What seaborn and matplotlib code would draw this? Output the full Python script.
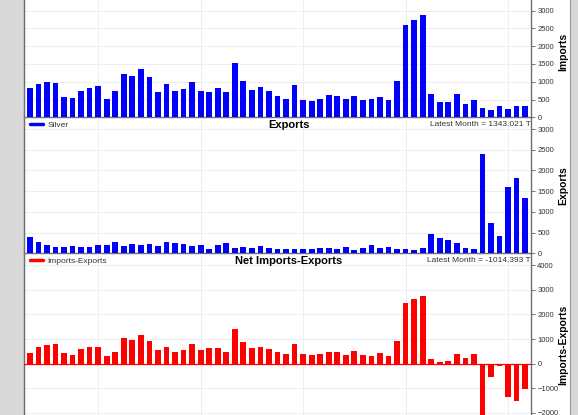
import matplotlib
matplotlib.use("Agg")
import matplotlib.pyplot as plt
from matplotlib.lines import Line2D
from matplotlib.patches import Rectangle
import seaborn as sns
import pandas as pd
import numpy as np

# ---- data (tonnes per month) ----
months = list(range(59))
imports = [830, 940, 980, 960, 580, 535, 750, 820, 880, 520,
           740, 1230, 1170, 1350, 1120, 720, 945, 740, 800, 1000,
           740, 715, 835, 715, 1525, 1020, 760, 845, 730, 610,
           525, 900, 490, 460, 515, 620, 590, 515, 610, 490,
           525, 570, 480, 1030, 2580, 2730, 2880, 650, 440, 440,
           650, 385, 490, 270, 200, 320, 245, 320, 328.6]
exports = [400, 265, 210, 145, 160, 175, 150, 160, 200, 210,
           265, 170, 215, 200, 215, 175, 265, 250, 235, 185,
           200, 95, 200, 250, 135, 150, 135, 175, 130, 115,
           115, 115, 95, 95, 120, 135, 105, 150, 80, 135,
           200, 135, 150, 95, 95, 90, 120, 460, 360, 330,
           250, 135, 105, 2400, 740, 410, 1590, 1825, 1343.021]
net = [430, 675, 770, 815, 420, 360, 600, 660, 680, 310,
       475, 1060, 955, 1150, 905, 545, 680, 490, 565, 815,
       540, 620, 635, 465, 1390, 870, 625, 670, 600, 495,
       410, 785, 395, 365, 395, 485, 485, 365, 530, 355,
       325, 435, 330, 935, 2485, 2640, 2760, 190, 80, 110,
       400, 250, 385, -2130, -540, -90, -1345, -1505, -1014.393]
year_starts = [8, 20, 32, 44, 56]

sns.set_style("white")
plt.rcParams["font.family"] = ["Liberation Sans", "DejaVu Sans"]

W, H = 578, 415
fig = plt.figure(figsize=(W / 100, H / 100), dpi=100, facecolor="#d8d8d8")

# white chart area
fig.patches.append(Rectangle((24 / W, -0.01), (570 - 24) / W, 1.02,
                             transform=fig.transFigure, facecolor="white",
                             edgecolor="#9a9a9a", linewidth=0.8, zorder=-10))

left = 24 / W
width = (531 - 24) / W


def px_box(top_px, bot_px):
    return [left, 1 - bot_px / H, width, (bot_px - top_px) / H]


panels = [
    dict(name="Imports", vals=imports, color="#0000ff", box=px_box(-10, 117.3),
         ylim=(0, 3576), ticks=np.arange(0, 3001, 500), legend=None,
         latest=None, top=-10, bot=117.3, title=None),
    dict(name="Exports", vals=exports, color="#0000ff", box=px_box(118, 253.3),
         ylim=(0, 3268), ticks=np.arange(0, 3001, 500), legend="Silver",
         latest="Latest Month = 1343.021 T", top=118, bot=253.3, title="Exports"),
    dict(name="Imports-Exports", vals=net, color="#ff0000", box=px_box(254, 440),
         ylim=(-3102, 4459), ticks=np.arange(-2000, 4001, 1000), legend="Imports-Exports",
         latest="Latest Month = -1014.393 T", top=254, bot=440,
         title="Net Imports-Exports"),
]

for p in panels:
    ax = fig.add_axes(p["box"], zorder=1)
    ax.set_facecolor("none")
    df = pd.DataFrame({"month": months, "value": p["vals"]})
    sns.barplot(data=df, x="month", y="value", color=p["color"], saturation=1,
                width=0.67, linewidth=0, errorbar=None, ax=ax, zorder=3)
    ax.set_xlim(-0.685, 58.685)
    ax.set_ylim(*p["ylim"])
    ax.set_xlabel("")
    ax.set_ylabel("")
    ax.set_xticks(year_starts)
    ax.set_xticklabels([])
    ax.tick_params(axis="x", length=0)
    ax.set_yticks(p["ticks"])
    ax.yaxis.tick_right()
    ax.tick_params(axis="y", which="both", direction="out", length=3, width=0.6,
                   color="#606060", labelsize=5.5, labelcolor="#333333", pad=1.5,
                   left=False, right=True, labelleft=False, labelright=True)
    ax.grid(True, color="#eeeeee", linewidth=0.7, zorder=0)
    ax.set_axisbelow(True)
    for s in ["left", "right", "bottom"]:
        ax.spines[s].set_visible(True)
        ax.spines[s].set_color("#6e6e6e")
        ax.spines[s].set_linewidth(1.0)
    ax.spines["top"].set_visible(False)
    if p["name"] == "Imports-Exports":
        ax.axhline(0, color="#ff0000", linewidth=0.9, zorder=4)

    if p["legend"]:
        frac_y = (p["bot"] - (p["top"] + 7)) / (p["bot"] - p["top"])
        ax.legend(handles=[Line2D([], [], color=p["color"], linewidth=2.5)],
                  labels=[p["legend"]], loc="center left",
                  bbox_to_anchor=((30 - 24) / 507, frac_y), frameon=False,
                  borderaxespad=0, borderpad=0, handlelength=1.5, handletextpad=0.6,
                  prop={"size": 6, "family": ["Liberation Sans", "DejaVu Sans"]},
                  labelcolor="#333333")
    if p["title"]:
        ty = 1 - (p["top"] + 7) / H
        fig.text(0.5, ty, p["title"], ha="center", va="center",
                 fontsize=8, fontweight="bold", color="black", zorder=5)
    if p["latest"]:
        fig.text(531 / W, 1 - (p["top"] + 6) / H, p["latest"], ha="right",
                 va="center", fontsize=6, color="#333333", zorder=5)
    if p["name"] == "Imports-Exports":
        cy = 1 - 345 / H
    elif p["name"] == "Imports":
        cy = 1 - 52 / H
    else:
        cy = 1 - ((p["top"] + p["bot"]) / 2) / H
    fig.text(563 / W, cy, p["name"], rotation=90, ha="center", va="center",
             fontsize=7.5, fontweight="bold", color="black", zorder=5)

fig.savefig("out.png", dpi=100, facecolor=fig.get_facecolor())
